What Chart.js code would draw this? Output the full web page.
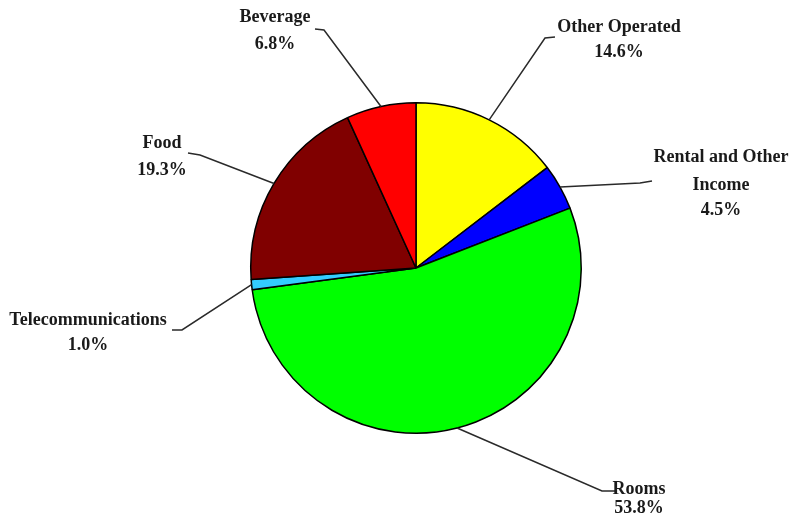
<!DOCTYPE html>
<html lang="en">
<head>
    <meta charset="UTF-8">
    <title>Revenue mix</title>
    <script src="https://cdn.jsdelivr.net/npm/chart.js"></script>
    <style>
        html, body { margin: 0; padding: 0; background: #fff; }
        #wrap { width: 791px; height: 519px; }
    </style>
</head>
<body>
<div id="wrap">
    <canvas id="chart" width="791" height="519"></canvas>
</div>

<script>
    // data, clockwise from 12 o'clock
    const categories = ['Other Operated', 'Rental and Other Income', 'Rooms', 'Telecommunications', 'Food', 'Beverage'];
    const shares = [14.6, 4.5, 53.8, 1.0, 19.3, 6.8];
    const labelLines = [
        ['Other Operated', '14.6%'],
        ['Rental and Other', 'Income', '4.5%'],
        ['Rooms', '53.8%'],
        ['Telecommunications', '1.0%'],
        ['Food', '19.3%'],
        ['Beverage', '6.8%']
    ];
    const colors = ['#FFFF00', '#0000FF', '#00FF00', '#33CCFF', '#800000', '#FF0000'];

    // where the callout text sits and where the leader bends
    const callouts = [
        { x: 619, ys: [27, 52], bend: [[545, 38], [555, 37]] },
        { x: 721, ys: [157, 185, 210], bend: [[640, 183], [652, 181]] },
        { x: 639, ys: [489, 508], bend: [[602, 491], [616, 491]] },
        { x: 88, ys: [320, 345], bend: [[182, 330], [172, 330]] },
        { x: 162, ys: [143, 170], bend: [[200, 155], [188, 153]] },
        { x: 275, ys: [17, 44], bend: [[324, 30], [315, 29]] }
    ];

    const calloutPlugin = {
        id: 'callouts',
        afterDraw(chart) {
            const ctx = chart.ctx;
            const arcs = chart.getDatasetMeta(0).data;
            ctx.save();
            arcs.forEach((arc, i) => {
                const mid = (arc.startAngle + arc.endAngle) / 2;
                const sx = arc.x + Math.cos(mid) * arc.outerRadius;
                const sy = arc.y + Math.sin(mid) * arc.outerRadius;
                const c = callouts[i];
                ctx.strokeStyle = '#2a2a2a';
                ctx.lineWidth = 1.5;
                ctx.beginPath();
                ctx.moveTo(sx, sy);
                c.bend.forEach(p => ctx.lineTo(p[0], p[1]));
                ctx.stroke();

                ctx.fillStyle = '#1a1a1a';
                ctx.font = 'bold 18px "Liberation Serif", "Times New Roman", serif';
                ctx.textAlign = 'center';
                ctx.textBaseline = 'middle';
                labelLines[i].forEach((t, k) => ctx.fillText(t, c.x, c.ys[k]));
            });
            ctx.restore();
        }
    };

    new Chart(document.getElementById('chart'), {
        type: 'pie',
        data: {
            labels: categories,
            datasets: [{
                data: shares,
                backgroundColor: colors,
                borderColor: '#000',
                borderWidth: 1.5
            }]
        },
        options: {
            responsive: false,
            animation: false,
            layout: { padding: { left: 250, right: 209, top: 101, bottom: 84 } },
            plugins: {
                legend: { display: false },
                tooltip: { enabled: false }
            }
        },
        plugins: [calloutPlugin]
    });
</script>
</body>
</html>
